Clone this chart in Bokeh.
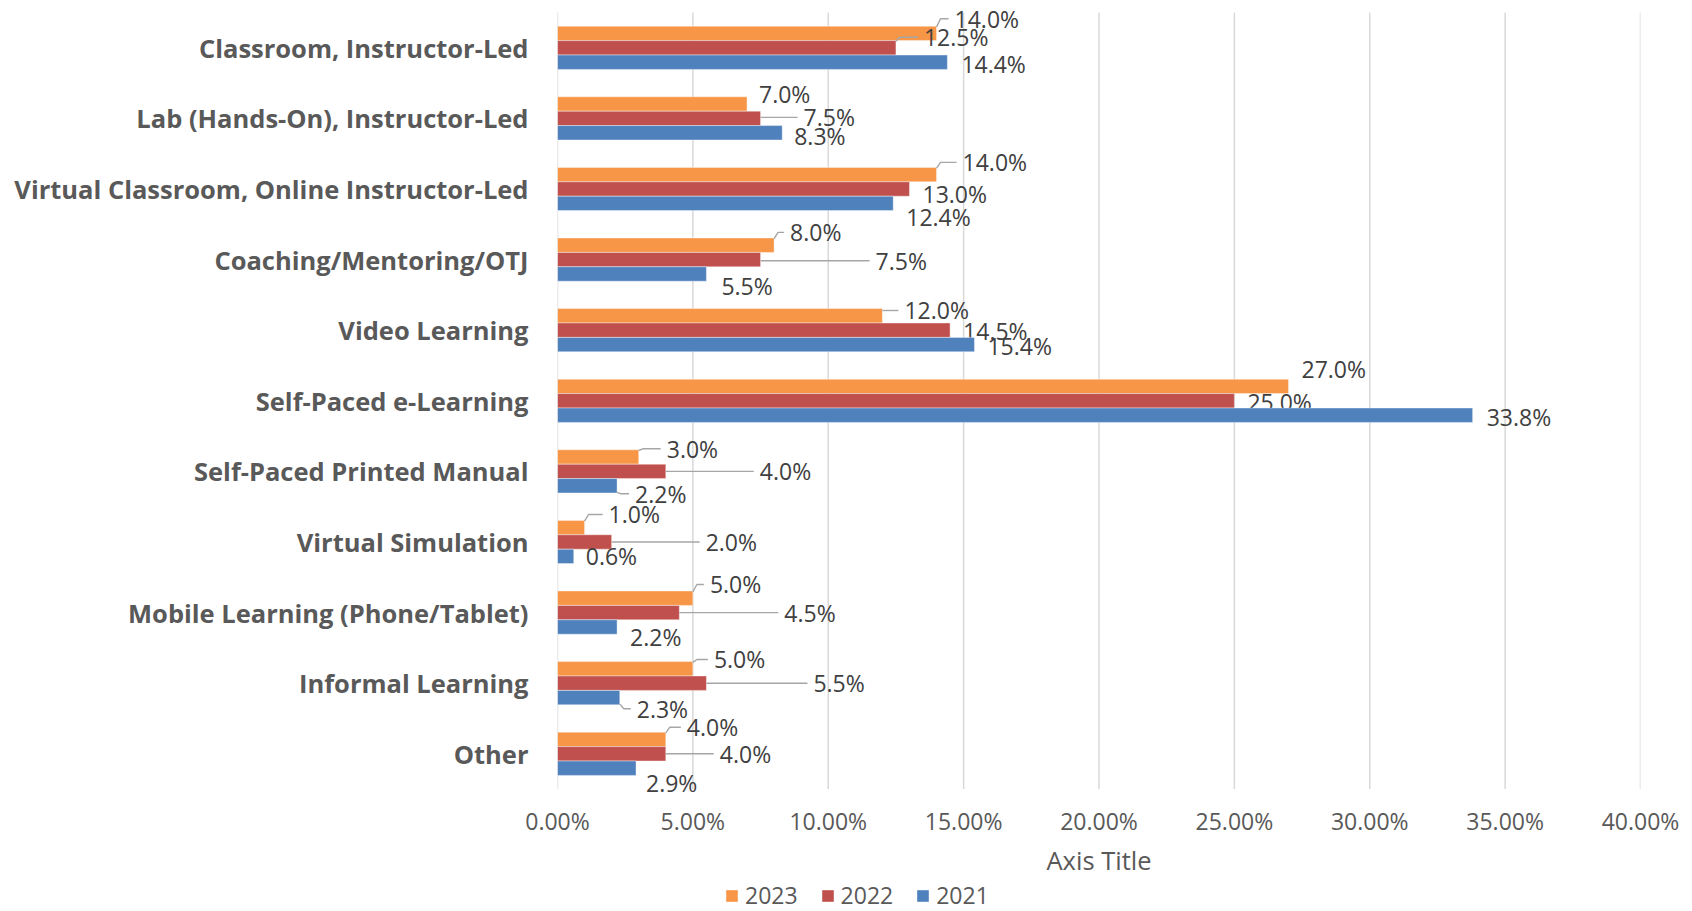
from bokeh.plotting import figure
from bokeh.layouts import column
from bokeh.models import (ColumnDataSource, Range1d, FixedTicker, NumeralTickFormatter,
                          Legend, LegendItem)
from bokeh.core.properties import value
from bokeh.embed import file_html
from bokeh.resources import INLINE

# ---------------- data ----------------
categories = [
    "Classroom, Instructor-Led",
    "Lab (Hands-On), Instructor-Led",
    "Virtual Classroom, Online Instructor-Led",
    "Coaching/Mentoring/OTJ",
    "Video Learning",
    "Self-Paced e-Learning",
    "Self-Paced Printed Manual",
    "Virtual Simulation",
    "Mobile Learning (Phone/Tablet)",
    "Informal Learning",
    "Other",
]
years = ["2023", "2022", "2021"]
pct_2023 = [14.0, 7.0, 14.0, 8.0, 12.0, 27.0, 3.0, 1.0, 5.0, 5.0, 4.0]
pct_2022 = [12.5, 7.5, 13.0, 7.5, 14.5, 25.0, 4.0, 2.0, 4.5, 5.5, 4.0]
pct_2021 = [14.4, 8.3, 12.4, 5.5, 15.4, 33.8, 2.2, 0.6, 2.2, 2.3, 2.9]
x_ticks = [0.0, 0.05, 0.10, 0.15, 0.20, 0.25, 0.30, 0.35, 0.40]

# ---------------- label placement (pixels, relative to bar end / bar centre) ----------------
lab_dx = {
    "2023": [18, 12, 26, 16, 22, 13, 28, 24, 17, 21, 21],
    "2022": [28, 43, 13, 115, 13, 13, 94, 94, 105, 107, 54],
    "2021": [14, 12, 13, 15, 13, 14, 18, 12, 13, 17, 10],
}
lab_dy = {
    "2023": [-14.6, -10, -12.2, -12.8, -5.3, -17.6, -8.2, -13.1, -13.7, -9.3, -12.2],
    "2022": [-10.6, -1, 5, 1.1, 0.3, 1.4, 0, 0, 0, 0, 0],
    "2021": [1.6, 2.9, 14, 11.7, 1, 1.3, 8, 0, 9.5, 11.2, 15],
}
leader = {
    "2023": [1, 0, 1, 1, 1, 0, 1, 1, 1, 1, 1],
    "2022": [1, 1, 0, 1, 0, 0, 1, 1, 1, 1, 1],
    "2021": [0, 0, 0, 0, 0, 0, 1, 0, 0, 1, 0],
}

colors = {"2023": "#F79646", "2022": "#C0504D", "2021": "#4F81BD"}
series = {"2023": pct_2023, "2022": pct_2022, "2021": pct_2021}

n = len(categories)
UNIT = 70.6                 # pixels per category band
PAD_T, PAD_B = 10.0, 9.4    # extra frame room so outer labels are not clipped
FRAME_W = 1083
FRAME_H = int(round(n * UNIT + PAD_T + PAD_B))
FRAME_LEFT = 557
X_MAX = x_ticks[-1]
px_x = X_MAX / FRAME_W      # data units per pixel (x)
px_y = 1.0 / UNIT           # data units per pixel (y)
BAR_H = 0.204
bar_off = {"2023": BAR_H, "2022": 0.0, "2021": -BAR_H}
y_center = [n - 0.5 - i for i in range(n)]

FONT = "Open Sans"
TXT = "#595959"
TOTAL_W = 1692

p = figure(frame_width=FRAME_W, frame_height=FRAME_H,
           x_range=Range1d(0, X_MAX),
           y_range=Range1d(-PAD_B * px_y, n + PAD_T * px_y),
           output_backend="svg", toolbar_location=None,
           min_border_left=FRAME_LEFT, min_border_right=TOTAL_W - FRAME_LEFT - FRAME_W,
           min_border_top=2, min_border_bottom=82)
p.outline_line_color = None
p.background_fill_color = "white"

# vertical gridlines (span only the category bands)
p.segment(x0=x_ticks, y0=[0] * len(x_ticks), x1=x_ticks, y1=[n] * len(x_ticks),
          line_color="#d9d9d9", line_width=1.5)

lead_xs, lead_ys = [], []
for yr in years:
    vals = [v / 100.0 for v in series[yr]]
    ys = [c + bar_off[yr] for c in y_center]
    src = ColumnDataSource(dict(
        y=ys, right=vals,
        label=["%.1f%%" % v for v in series[yr]],
        dx=lab_dx[yr], dy=lab_dy[yr],
    ))
    p.hbar(y="y", right="right", left=0, height=BAR_H, source=src,
           fill_color=colors[yr], line_color="white", line_alpha=0.5, line_width=0.8)
    p.text(x="right", y="y", text="label", x_offset="dx", y_offset="dy", source=src,
           text_font=value(FONT), text_font_size="23px", text_color="#404040",
           text_baseline="middle", text_align="left")
    for i in range(n):
        if not leader[yr][i]:
            continue
        xe = vals[i]
        yc = ys[i]
        yl = yc - lab_dy[yr][i] * px_y
        xl = xe + (lab_dx[yr][i] - 6) * px_x
        half = BAR_H / 2 * 0.9
        y0 = min(max(yl, yc - half), yc + half)
        if abs(y0 - yl) > 1e-9:
            lead_xs.append([xe, xe + 4 * px_x, xl])
            lead_ys.append([y0, yl, yl])
        else:
            lead_xs.append([xe, xl])
            lead_ys.append([yl, yl])

p.multi_line(xs=lead_xs, ys=lead_ys, line_color="#a6a6a6", line_width=1.4)

# axes
p.xgrid.grid_line_color = None
p.ygrid.grid_line_color = None

p.xaxis.ticker = FixedTicker(ticks=x_ticks)
p.xaxis.formatter = NumeralTickFormatter(format="0.00%")
p.xaxis.axis_line_color = None
p.xaxis.major_tick_out = 0
p.xaxis.major_tick_in = 0
p.xaxis.minor_tick_out = 0
p.xaxis.minor_tick_in = 0
p.xaxis.major_label_standoff = 6
p.xaxis.major_label_text_font = FONT
p.xaxis.major_label_text_font_size = "23px"
p.xaxis.major_label_text_color = TXT
p.xaxis.axis_label = "Axis Title"
p.xaxis.axis_label_text_font = FONT
p.xaxis.axis_label_text_font_size = "25.5px"
p.xaxis.axis_label_text_font_style = "normal"
p.xaxis.axis_label_text_color = TXT
p.xaxis.axis_label_standoff = 3

p.yaxis.ticker = FixedTicker(ticks=y_center)
p.yaxis.major_label_overrides = {y_center[i]: categories[i] for i in range(n)}
p.yaxis.axis_line_color = None
p.yaxis.major_tick_out = 0
p.yaxis.major_tick_in = 0
p.yaxis.minor_tick_out = 0
p.yaxis.minor_tick_in = 0
p.yaxis.major_label_standoff = 29
p.yaxis.major_label_text_font = FONT
p.yaxis.major_label_text_font_size = "25.5px"
p.yaxis.major_label_text_font_style = "bold"
p.yaxis.major_label_text_color = TXT

# ---------------- legend strip (separate small figure below the chart) ----------------
LEG_H = 31
pl = figure(width=TOTAL_W, height=LEG_H, x_range=Range1d(0, 1), y_range=Range1d(0, 1),
            output_backend="svg", toolbar_location=None,
            x_axis_location=None, y_axis_location=None, min_border=0)
pl.outline_line_color = None
pl.xgrid.visible = False
pl.ygrid.visible = False
items = []
for yr in years:
    # swatch renderer kept outside the visible range; it only feeds the legend
    r = pl.hbar(y=[-10], right=[1], left=0, height=1, fill_color=colors[yr],
                line_color="white", line_alpha=0.5, line_width=0.8)
    items.append(LegendItem(label=yr, renderers=[r]))
legend = Legend(
    items=items, orientation="horizontal", location=(724 - FRAME_LEFT, 0),
    glyph_width=15, glyph_height=15, label_standoff=6, spacing=22,
    padding=0, margin=0, border_line_color=None, background_fill_alpha=0,
    label_text_font=FONT, label_text_font_size="23px", label_text_color=TXT,
)
pl.add_layout(legend)

layout = column(p, pl, spacing=0)
open("out.html", "w").write(file_html(layout, INLINE))
